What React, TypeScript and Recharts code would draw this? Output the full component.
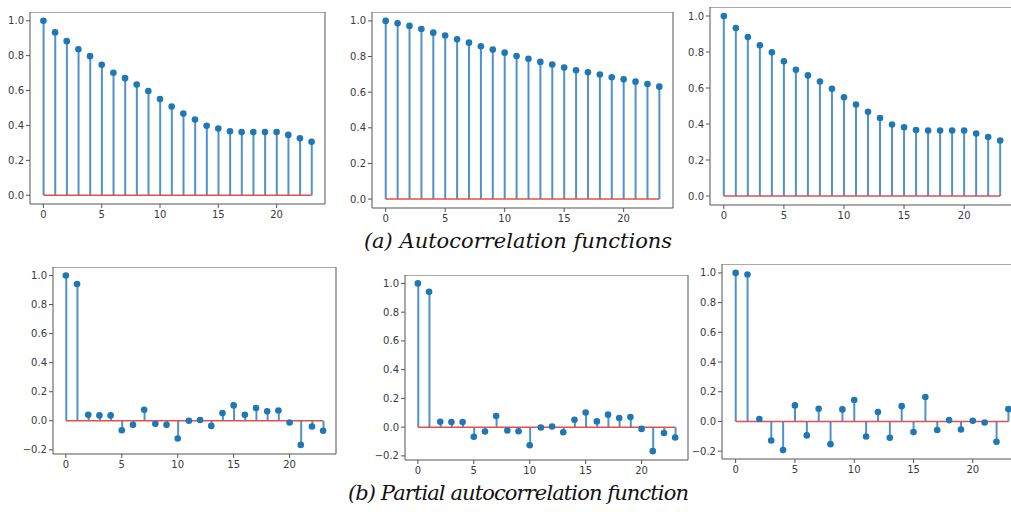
import React from 'react';
import {
  ComposedChart,
  Bar,
  Scatter,
  XAxis,
  YAxis,
  ReferenceLine,
  ReferenceArea,
} from 'recharts';

// lags shown on every panel
const lags = [0, 1, 2, 3, 4, 5, 6, 7, 8, 9, 10, 11, 12, 13, 14, 15, 16, 17, 18, 19, 20, 21, 22, 23];
const xTicks = [0, 5, 10, 15, 20];
const acfTicks = [0, 0.2, 0.4, 0.6, 0.8, 1.0];
const pacfTicks = [-0.2, 0, 0.2, 0.4, 0.6, 0.8, 1.0];

// (a) autocorrelation
const acfLeft = [1.0, 0.933, 0.883, 0.837, 0.797, 0.748, 0.702, 0.671, 0.635, 0.597, 0.551, 0.509,
  0.468, 0.434, 0.398, 0.382, 0.367, 0.362, 0.362, 0.362, 0.362, 0.346, 0.327, 0.307];
const acfMiddle = [1.0, 0.987, 0.972, 0.955, 0.934, 0.918, 0.897, 0.878, 0.858, 0.839, 0.822, 0.803,
  0.787, 0.770, 0.755, 0.738, 0.723, 0.712, 0.699, 0.684, 0.672, 0.659, 0.646, 0.631];
const acfRight = [1.0, 0.933, 0.883, 0.837, 0.798, 0.748, 0.701, 0.670, 0.636, 0.596, 0.549, 0.508,
  0.468, 0.433, 0.397, 0.382, 0.367, 0.364, 0.364, 0.364, 0.364, 0.347, 0.328, 0.308];

// (b) partial autocorrelation
const pacfLeft = [1.0, 0.942, 0.041, 0.037, 0.037, -0.065, -0.028, 0.076, -0.021, -0.028, -0.122, 0.0,
  0.005, -0.035, 0.053, 0.106, 0.041, 0.088, 0.065, 0.071, -0.012, -0.166, -0.039, -0.069];
const pacfMiddle = [1.0, 0.942, 0.038, 0.036, 0.035, -0.067, -0.030, 0.077, -0.023, -0.029, -0.126, -0.002,
  0.005, -0.035, 0.052, 0.102, 0.040, 0.087, 0.064, 0.070, -0.012, -0.167, -0.041, -0.072];
const pacfRight = [1.0, 0.989, 0.016, -0.128, -0.193, 0.108, -0.094, 0.085, -0.153, 0.081, 0.144, -0.101,
  0.063, -0.110, 0.103, -0.072, 0.164, -0.058, 0.009, -0.054, 0.004, -0.007, -0.137, 0.083];

const Y_AXIS_W = 30;
const X_AXIS_H = 22;
const tickStyle = { fontSize: 10, fill: '#3a3a3a', fontFamily: 'DejaVu Sans' };

const fmt = (v: number) => (v < 0 ? '\u2212' + Math.abs(v).toFixed(1) : v.toFixed(1));

interface StemProps {
  values: number[];
  yTicks: number[];
  yDomain: [number, number];
  frame: { x: number; y: number; w: number; h: number };
}

const StemPanel = ({ values, yTicks, yDomain, frame }: StemProps) => {
  const data = lags.map((lag, i) => ({ lag, v: values[i] }));
  const width = frame.w + Y_AXIS_W + 1;
  const height = frame.h + X_AXIS_H + 1;
  return (
    <div style={{ position: 'absolute', left: frame.x - Y_AXIS_W, top: frame.y }}>
      <ComposedChart
        width={width}
        height={height}
        data={data}
        margin={{ top: 0, right: 1, bottom: 1, left: 0 }}
      >
        <XAxis
          dataKey="lag"
          type="number"
          domain={[-1.15, 24.15]}
          ticks={xTicks}
          allowDataOverflow
          height={X_AXIS_H}
          axisLine={false}
          tickLine={{ stroke: '#555' }}
          tickSize={4}
          tickMargin={3}
          tick={tickStyle}
        />
        <YAxis
          type="number"
          domain={yDomain}
          ticks={yTicks}
          allowDataOverflow
          width={Y_AXIS_W}
          axisLine={false}
          tickLine={{ stroke: '#555' }}
          tickSize={4}
          tickMargin={2}
          tick={tickStyle}
          tickFormatter={fmt}
        />
        <Bar dataKey="v" barSize={2} fill="#4f93c9" isAnimationActive={false} />
        <ReferenceLine
          segment={[{ x: 0, y: 0 }, { x: 23, y: 0 }]}
          stroke="#e2504e"
          strokeWidth={1.5}
        />
        <Scatter
          dataKey="v"
          isAnimationActive={false}
          shape={(p: any) => <circle cx={p.cx} cy={p.cy} r={3.3} fill="#1f77b4" />}
        />
        <ReferenceArea
          x1={-1.15}
          x2={24.15}
          y1={yDomain[0]}
          y2={yDomain[1]}
          fill="none"
          stroke="#555"
          strokeWidth={1}
          ifOverflow="visible"
        />
      </ComposedChart>
    </div>
  );
};

const captionStyle: React.CSSProperties = {
  position: 'absolute',
  left: 0,
  width: 1036,
  textAlign: 'center',
  fontFamily: '"DejaVu Serif", serif',
  fontStyle: 'italic',
  fontSize: 21,
  color: '#111',
  lineHeight: '28px',
};

export default function App() {
  return (
    <div
      style={{
        position: 'fixed',
        left: 0,
        top: 0,
        width: 1011,
        height: 512,
        overflow: 'hidden',
        background: '#fff',
      }}
    >
      <StemPanel values={acfLeft} yTicks={acfTicks} yDomain={[-0.05, 1.05]} frame={{ x: 30, y: 12, w: 295, h: 192 }} />
      <StemPanel values={acfMiddle} yTicks={acfTicks} yDomain={[-0.05, 1.05]} frame={{ x: 372, y: 12, w: 301, h: 196 }} />
      <StemPanel values={acfRight} yTicks={acfTicks} yDomain={[-0.05, 1.05]} frame={{ x: 710, y: 7, w: 304, h: 198 }} />
      <div style={{ ...captionStyle, top: 227 }}>(a) Autocorrelation functions</div>

      <StemPanel values={pacfLeft} yTicks={pacfTicks} yDomain={[-0.2285, 1.0585]} frame={{ x: 53, y: 267, w: 283, h: 187 }} />
      <StemPanel values={pacfMiddle} yTicks={pacfTicks} yDomain={[-0.2285, 1.0585]} frame={{ x: 405, y: 275, w: 283, h: 185 }} />
      <StemPanel values={pacfRight} yTicks={pacfTicks} yDomain={[-0.253, 1.06]} frame={{ x: 722, y: 264, w: 300, h: 195 }} />
      <div style={{ ...captionStyle, top: 479, letterSpacing: -0.9 }}>(b) Partial autocorrelation function</div>
    </div>
  );
}
